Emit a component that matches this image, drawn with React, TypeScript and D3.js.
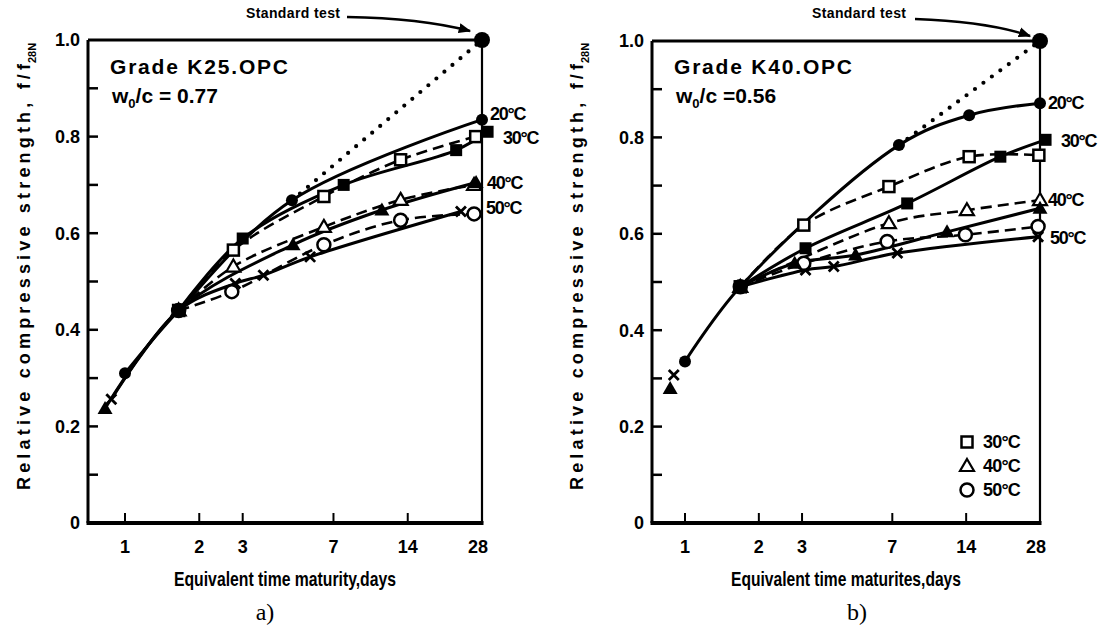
import React from "react";
import * as d3 from "d3";

type P = [number, number];

const ageTicks = [1, 2, 3, 7, 14, 28];
const strengthTicks = [0, 0.2, 0.4, 0.6, 0.8, 1.0];
const minorStrengthTicks = [0.1, 0.3, 0.5, 0.7, 0.9];

// Panel a) Grade K25, OPC, w0/c = 0.77
const a20: P[] = [[1, 0.31], [1.65, 0.44], [4.75, 0.668], [28, 0.835]];
const a30Solid: P[] = [[1.65, 0.44], [3, 0.589], [7.7, 0.7], [22, 0.772], [29.5, 0.81]];
const a30Dash: P[] = [[1.65, 0.44], [2.75, 0.565], [6.4, 0.676], [13.1, 0.752], [26.4, 0.8]];
const a40Solid: P[] = [[0.83, 0.237], [1.65, 0.44], [4.8, 0.576], [11, 0.648], [26.5, 0.705]];
const a40Dash: P[] = [[1.65, 0.44], [2.75, 0.531], [6.4, 0.613], [13.1, 0.669], [26, 0.7]];
const a50Solid: P[] = [[0.88, 0.256], [1.65, 0.44], [2.8, 0.496], [3.64, 0.513], [5.63, 0.551], [23, 0.645]];
const a50Dash: P[] = [[1.65, 0.44], [2.71, 0.479], [6.4, 0.576], [13.1, 0.627], [26, 0.64]];
const aDotted: P[] = [[4.75, 0.668], [28, 1.0]];

// Panel b) Grade K40, OPC, w0/c = 0.56
const b20: P[] = [[1, 0.335], [1.68, 0.49], [7.45, 0.784], [14.4, 0.846], [28, 0.871]];
const b30Solid: P[] = [[1.68, 0.49], [3.1, 0.57], [8.05, 0.663], [19.3, 0.76], [29.5, 0.795]];
const b30Dash: P[] = [[1.68, 0.49], [3.05, 0.618], [6.78, 0.698], [14.4, 0.76], [27.7, 0.763]];
const b40Solid: P[] = [[0.87, 0.279], [1.68, 0.49], [2.8, 0.539], [4.96, 0.556], [11.7, 0.604], [28, 0.653]];
const b40Dash: P[] = [[1.68, 0.49], [6.78, 0.622], [14.1, 0.649], [28, 0.67]];
const b50Solid: P[] = [[0.9, 0.307], [1.68, 0.49], [3.1, 0.525], [4.04, 0.532], [7.34, 0.56], [27.5, 0.594]];
const b50Dash: P[] = [[1.68, 0.49], [3.05, 0.539], [6.67, 0.584], [13.9, 0.598], [27.5, 0.615]];
const bDotted: P[] = [[7.45, 0.784], [28, 1.0]];

const standardTest: P = [28, 1.0];
const legendItems = [
  { marker: "openSquare", label: "30°C" },
  { marker: "openTriangle", label: "40°C" },
  { marker: "openCircle", label: "50°C" },
];

type Series = { pts: P[]; marker: string; dashed: boolean; lineStart: number };

const FONT = "'Liberation Sans', Arial, sans-serif";

function Marker({ type, x, y }: { type: string; x: number; y: number }) {
  const s = 6;
  switch (type) {
    case "filledCircle":
      return <circle cx={x} cy={y} r={6} fill="#000" />;
    case "openCircle":
      return <circle cx={x} cy={y} r={6.5} fill="#fff" stroke="#000" strokeWidth={2.5} />;
    case "filledSquare":
      return <rect x={x - s} y={y - s} width={2 * s} height={2 * s} fill="#000" />;
    case "openSquare":
      return <rect x={x - 5.5} y={y - 5.5} width={11} height={11} fill="#fff" stroke="#000" strokeWidth={2.5} />;
    case "filledTriangle":
      return <path d={`M${x},${y - 7.5}L${x + 7.5},${y + 5.5}L${x - 7.5},${y + 5.5}Z`} fill="#000" />;
    case "openTriangle":
      return <path d={`M${x},${y - 7}L${x + 7},${y + 5}L${x - 7},${y + 5}Z`} fill="#fff" stroke="#000" strokeWidth={2.2} />;
    case "cross":
      return (
        <path d={`M${x - 5},${y - 5}L${x + 5},${y + 5}M${x + 5},${y - 5}L${x - 5},${y + 5}`} stroke="#000" strokeWidth={2.8} fill="none" />
      );
    default:
      return null;
  }
}

type PanelProps = {
  left: number; right: number; top: number; bottom: number;
  xRange: [number, number];
  series: Series[];
  dotted: P[];
  grade: string; wc: string;
  labels: { text: string; x: number; y: number }[];
  xTitle: string; xTitleLen: number;
  yTitleX: number;
  sub: string;
  stdText: { x: number; arrow: [number, number, number, number, number, number] };
  legend: boolean;
};

function Panel(p: PanelProps) {
  const x = d3.scaleLog().domain([1, 28]).range(p.xRange);
  const y = d3.scaleLinear().domain([0, 1]).range([p.bottom, p.top]);
  const lineGen = d3
    .line<P>()
    .x((d) => x(d[0]))
    .y((d) => y(d[1]))
    .curve(d3.curveCatmullRom.alpha(0.5));
  const straight = d3.line<P>().x((d) => x(d[0])).y((d) => y(d[1]));
  const cx = (p.left + p.right) / 2;
  const [ax1, ay1, axc, ayc, ax2, ay2] = p.stdText.arrow;
  const yTitleStart = 490;
  const yTitleLen = 426;
  return (
    <g>
      {/* frame */}
      <line x1={p.left} y1={p.top} x2={p.right} y2={p.top} stroke="#000" strokeWidth={3} />
      <line x1={p.left} y1={p.top} x2={p.left} y2={p.bottom} stroke="#000" strokeWidth={3} />
      <line x1={p.left - 1.5} y1={p.bottom} x2={p.right + 1.5} y2={p.bottom} stroke="#000" strokeWidth={4} />
      <line x1={p.right} y1={p.top} x2={p.right} y2={p.bottom} stroke="#000" strokeWidth={2.2} />
      {/* y ticks */}
      {strengthTicks.concat(minorStrengthTicks).filter((v) => v > 0 && v < 1).map((v) => (
        <line key={"yt" + v} x1={p.left} x2={p.left + 10} y1={y(v)} y2={y(v)} stroke="#000" strokeWidth={2.5} />
      ))}
      {strengthTicks.map((v) => (
        <text key={"yl" + v} x={p.left - 8} y={y(v)} dy="0.36em" textAnchor="end" fontFamily={FONT} fontWeight="bold" fontSize={18}>
          {v === 0 ? "0" : v.toFixed(1)}
        </text>
      ))}
      {/* x ticks */}
      {ageTicks.filter((t) => t < 28).map((t) => (
        <line key={"xt" + t} x1={x(t)} x2={x(t)} y1={p.bottom} y2={p.bottom - 10} stroke="#000" strokeWidth={2} />
      ))}
      {ageTicks.map((t) => (
        <text key={"xl" + t} x={x(t) - (t === 28 ? 4 : 0)} y={553} textAnchor="middle" fontFamily={FONT} fontWeight="bold" fontSize={18}>
          {t}
        </text>
      ))}
      {/* dotted line to standard test */}
      <path d={straight(p.dotted) || ""} fill="none" stroke="#000" strokeWidth={4.2} strokeLinecap="round" strokeDasharray="0 10.5" />
      {/* curves */}
      {p.series.map((s, i) => (
        <path
          key={"c" + i}
          d={lineGen(s.pts.slice(s.lineStart)) || ""}
          fill="none"
          stroke="#000"
          strokeWidth={s.dashed ? 2.6 : 3}
          strokeDasharray={s.dashed ? "11 6" : undefined}
        />
      ))}
      {/* markers */}
      {p.series.map((s, i) => (
        <g key={"m" + i}>
          {s.pts.map((d, j) => (
            <Marker key={j} type={s.marker} x={x(d[0])} y={y(d[1])} />
          ))}
        </g>
      ))}
      <circle cx={x(standardTest[0])} cy={y(standardTest[1])} r={8} fill="#000" />
      {/* temperature labels */}
      {p.labels.map((l) => (
        <text key={l.text} x={l.x} y={l.y} dy="0.36em" fontFamily={FONT} fontWeight="bold" fontSize={18} letterSpacing={-1.2}>
          {l.text}
        </text>
      ))}
      {/* grade text */}
      <text x={p.left + 22} y={74} fontFamily={FONT} fontWeight="bold" fontSize={21} textLength={178} lengthAdjust="spacing">
        {p.grade}
      </text>
      <text x={p.left + 24} y={103} fontFamily={FONT} fontWeight="bold" fontSize={21}>
        w<tspan fontSize={13} dy={5}>0</tspan>
        <tspan dy={-5}>{"/c " + p.wc}</tspan>
      </text>
      {/* standard test annotation */}
      <text x={p.stdText.x} y={18} fontFamily={FONT} fontWeight="bold" fontSize={14} textLength={94} lengthAdjust="spacing">
        Standard test
      </text>
      <path d={`M${ax1},${ay1}Q${axc},${ayc} ${ax2},${ay2}`} fill="none" stroke="#000" strokeWidth={2.5} markerEnd="url(#arrowHead)" />
      {/* legend */}
      {p.legend &&
        legendItems.map((it, i) => (
          <g key={it.label}>
            <Marker type={it.marker} x={967} y={442 + i * 24} />
            <text x={983} y={442 + i * 24} dy="0.36em" fontFamily={FONT} fontWeight="bold" fontSize={18} letterSpacing={-0.8}>
              {it.label}
            </text>
          </g>
        ))}
      {/* axis titles */}
      <text x={cx} y={586} textAnchor="middle" fontFamily={FONT} fontWeight="bold" fontSize={21} textLength={p.xTitleLen} lengthAdjust="spacingAndGlyphs">
        {p.xTitle}
      </text>
      <g transform={`translate(${p.yTitleX},${yTitleStart}) rotate(-90)`}>
        <text x={0} y={0} fontFamily={FONT} fontWeight="bold" fontSize={18} textLength={yTitleLen} lengthAdjust="spacing">
          Relative compressive strength, f/f
        </text>
        <text x={yTitleLen + 1} y={6} fontFamily={FONT} fontWeight="bold" fontSize={11}>
          {p.sub}
        </text>
      </g>
    </g>
  );
}

export default function App() {
  const seriesA: Series[] = [
    { pts: a50Solid, marker: "cross", dashed: false, lineStart: 0 },
    { pts: a50Dash, marker: "openCircle", dashed: true, lineStart: 0 },
    { pts: a40Dash, marker: "openTriangle", dashed: true, lineStart: 0 },
    { pts: a40Solid, marker: "filledTriangle", dashed: false, lineStart: 0 },
    { pts: a30Dash, marker: "openSquare", dashed: true, lineStart: 0 },
    { pts: a30Solid, marker: "filledSquare", dashed: false, lineStart: 0 },
    { pts: a20, marker: "filledCircle", dashed: false, lineStart: 0 },
  ];
  const seriesB: Series[] = [
    { pts: b50Solid, marker: "cross", dashed: false, lineStart: 1 },
    { pts: b50Dash, marker: "openCircle", dashed: true, lineStart: 0 },
    { pts: b40Dash, marker: "openTriangle", dashed: true, lineStart: 0 },
    { pts: b40Solid, marker: "filledTriangle", dashed: false, lineStart: 1 },
    { pts: b30Dash, marker: "openSquare", dashed: true, lineStart: 0 },
    { pts: b30Solid, marker: "filledSquare", dashed: false, lineStart: 0 },
    { pts: b20, marker: "filledCircle", dashed: false, lineStart: 0 },
  ];
  return (
    <svg width={1109} height={633} style={{ display: "block", position: "absolute", left: 0, top: 0, background: "#fff" }}>
      <defs>
        <marker id="arrowHead" viewBox="0 0 10 10" refX="9" refY="5" markerWidth="5" markerHeight="5" orient="auto">
          <path d="M0,1L10,5L0,9Z" fill="#000" />
        </marker>
      </defs>
      <rect width={1109} height={633} fill="#fff" />
      <Panel
        left={88} right={482} top={40} bottom={523}
        xRange={[125, 482]}
        series={seriesA}
        dotted={aDotted}
        grade="Grade K25.OPC" wc="= 0.77"
        labels={[
          { text: "20°C", x: 490, y: 114 },
          { text: "30°C", x: 503, y: 138 },
          { text: "40°C", x: 487, y: 183 },
          { text: "50°C", x: 486, y: 208 },
        ]}
        xTitle="Equivalent time maturity,days" xTitleLen={222}
        yTitleX={30} sub="28N"
        stdText={{ x: 246, arrow: [347, 17, 420, 18, 470, 31] }}
        legend={false}
      />
      <Panel
        left={652} right={1040} top={41} bottom={523}
        xRange={[685, 1040]}
        series={seriesB}
        dotted={bDotted}
        grade="Grade K40.OPC" wc="=0.56"
        labels={[
          { text: "20°C", x: 1048, y: 103 },
          { text: "30°C", x: 1061, y: 141 },
          { text: "40°C", x: 1048, y: 200 },
          { text: "50°C", x: 1050, y: 238 },
        ]}
        xTitle="Equivalent time maturites,days" xTitleLen={230}
        yTitleX={583} sub="28N"
        stdText={{ x: 812, arrow: [915, 19, 990, 22, 1030, 36] }}
        legend={true}
      />
      <text x={265} y={620} textAnchor="middle" fontFamily="'Liberation Serif', 'Times New Roman', serif" fontSize={24}>
        a)
      </text>
      <text x={857} y={620} textAnchor="middle" fontFamily="'Liberation Serif', 'Times New Roman', serif" fontSize={24}>
        b)
      </text>
    </svg>
  );
}
